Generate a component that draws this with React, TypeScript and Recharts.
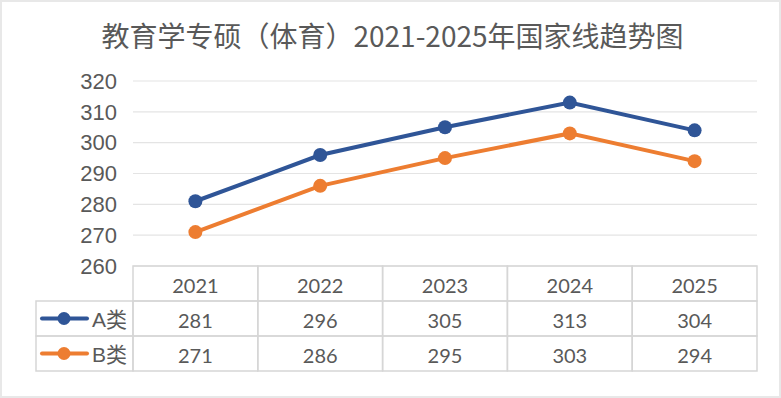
import { CartesianGrid, Line, LineChart, XAxis, YAxis } from 'recharts';

const years = ['2021', '2022', '2023', '2024', '2025'];
const seriesA = [281, 296, 305, 313, 304];
const seriesB = [271, 286, 295, 303, 294];
const seriesNames = ['A类', 'B类'];
const yTicks = [260, 270, 280, 290, 300, 310, 320];
const title = '教育学专硕（体育）2021-2025年国家线趋势图';

const colors = ['#2F5597', '#ED7D31'];
const data = years.map((year, i) => ({ year, a: seriesA[i], b: seriesB[i] }));
const rows = [seriesA, seriesB];

const W = 781;
const H = 398;
const PLOT_LEFT = 133;
const PLOT_RIGHT = 757;
const PLOT_TOP = 81;
const PLOT_BOTTOM = 266;
const CELL_W = (PLOT_RIGHT - PLOT_LEFT) / years.length;
const ROW_H = 35;
const LEGEND_LEFT = 36;
const GRID = '#d6d6d6';
const TEXT = '#595959';

function TableTick(props: any) {
  const { x, payload } = props;
  const i = years.indexOf(payload.value);
  const left = x - CELL_W / 2;
  const top = PLOT_BOTTOM;
  const numFont = 'Lato, "Open Sans", sans-serif';
  return (
    <g>
      <rect x={left} y={top} width={CELL_W} height={ROW_H} fill="none" stroke={GRID} strokeWidth={1.5} />
      <text x={x} y={top + ROW_H / 2 + 1} textAnchor="middle" dominantBaseline="central" fill={TEXT} fontSize={20} fontFamily={numFont}>
        {payload.value}
      </text>
      {rows.map((r, k) => (
        <g key={k}>
          <rect x={left} y={top + ROW_H * (k + 1)} width={CELL_W} height={ROW_H} fill="none" stroke={GRID} strokeWidth={1.5} />
          <text x={x} y={top + ROW_H * (k + 1.5) + 1} textAnchor="middle" dominantBaseline="central" fill={TEXT} fontSize={20} fontFamily={numFont}>
            {r[i]}
          </text>
        </g>
      ))}
      {i === 0 &&
        seriesNames.map((name, k) => {
          const cy = top + ROW_H * (k + 1.5);
          return (
            <g key={name}>
              <rect x={LEGEND_LEFT} y={top + ROW_H * (k + 1)} width={left - LEGEND_LEFT} height={ROW_H} fill="none" stroke={GRID} strokeWidth={1.5} />
              <line x1={42} x2={87} y1={cy} y2={cy} stroke={colors[k]} strokeWidth={4} strokeLinecap="round" />
              <circle cx={64} cy={cy} r={6.5} fill={colors[k]} />
              <text x={92} y={cy + 1} dominantBaseline="central" fill={TEXT} fontSize={21} fontFamily='"Liberation Sans", "Noto Sans CJK SC", sans-serif'>
                {name}
              </text>
            </g>
          );
        })}
    </g>
  );
}

export default function App() {
  return (
    <div style={{ position: 'relative', width: W, height: H, background: '#fff', boxSizing: 'border-box', border: '2px solid #e8e8e8' }}>
      <style>{'body{margin:0}'}</style>
      <div
        style={{
          position: 'absolute',
          left: 0,
          top: 13,
          width: W,
          textAlign: 'center',
          fontFamily: '"Noto Sans CJK SC", sans-serif',
          fontSize: 28,
          color: TEXT,
          lineHeight: '40px',
        }}
      >
        {title}
      </div>
      <div style={{ position: 'absolute', left: -2, top: -2 }}>
        <LineChart
          width={W}
          height={H}
          data={data}
          margin={{ top: PLOT_TOP, right: W - PLOT_RIGHT, bottom: 0, left: 0 }}
        >
          <CartesianGrid vertical={false} stroke="#e4e4e4" strokeWidth={1.2} />
          <XAxis
            dataKey="year"
            axisLine={false}
            tickLine={false}
            interval={0}
            height={H - PLOT_BOTTOM}
            padding={{ left: CELL_W / 2, right: CELL_W / 2 }}
            tick={<TableTick />}
          />
          <YAxis
            width={PLOT_LEFT}
            domain={[260, 320]}
            ticks={yTicks}
            interval={0}
            axisLine={false}
            tickLine={false}
            tickMargin={10}
            tick={{ fill: TEXT, fontSize: 22, fontFamily: '"Liberation Sans", Arial, sans-serif' }}
          />
          <Line dataKey="a" name={seriesNames[0]} stroke={colors[0]} strokeWidth={4} dot={{ r: 7, fill: colors[0], stroke: colors[0], strokeWidth: 0 }} isAnimationActive={false} />
          <Line dataKey="b" name={seriesNames[1]} stroke={colors[1]} strokeWidth={4} dot={{ r: 7, fill: colors[1], stroke: colors[1], strokeWidth: 0 }} isAnimationActive={false} />
        </LineChart>
      </div>
    </div>
  );
}
